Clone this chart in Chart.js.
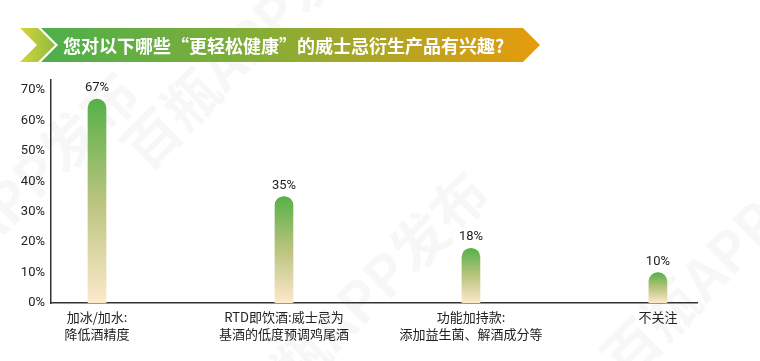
<!DOCTYPE html>
<html>
<head>
<meta charset="utf-8">
<script src="https://cdn.jsdelivr.net/npm/chart.js@4.4.1/dist/chart.umd.min.js"></script>
<style>
  html, body { margin: 0; padding: 0; background: #fff; }
  #wrap { width: 760px; height: 361px; position: relative; }
</style>
</head>
<body>
<div id="wrap"><canvas id="grafica" width="760" height="361"></canvas></div>
<script>
// datos de la gráfica
const titulo = "您对以下哪些“更轻松健康”的威士忌衍生产品有兴趣?";
const categorias = [
    ["加冰/加水:", "降低酒精度"],
    ["RTD即饮酒:威士忌为", "基酒的低度预调鸡尾酒"],
    ["功能加持款:", "添加益生菌、解酒成分等"],
    ["不关注"]
];
const valores = [67, 35, 18, 10];
const ticksY = [0, 10, 20, 30, 40, 50, 60, 70];

const fuenteNum = "Roboto, 'Noto Sans CJK SC', sans-serif";
const fuenteCJK = "'Noto Sans CJK SC', 'Noto Sans', sans-serif";

// degradado de cada barra: verde arriba, crema abajo
function colorBarra(ctx) {
    const chart = ctx.chart;
    const y = chart.scales.y;
    if (!y || !chart.chartArea || ctx.dataIndex === undefined) return "#8fbf5a";
    const top = y.getPixelForValue(valores[ctx.dataIndex]);
    const bottom = y.getPixelForValue(0);
    const g = chart.ctx.createLinearGradient(0, top, 0, bottom);
    g.addColorStop(0, "#57b047");
    g.addColorStop(0.5, "#b9c47e");
    g.addColorStop(1, "#fde9cb");
    return g;
}

// banner del título + marca de agua
const bannerPlugin = {
    id: "banner",
    beforeDraw(chart) {
        const c = chart.ctx;
        c.save();
        // marca de agua
        c.fillStyle = "rgba(0,0,0,0.03)";
        c.font = "bold 56px " + fuenteCJK;
        c.textAlign = "center";
        c.textBaseline = "middle";
        [[250, 40], [10, 200], [360, 300], [730, 250]].forEach(function (p) {
            c.save();
            c.translate(p[0], p[1]);
            c.rotate(-Math.PI / 4);
            c.fillText("百瓶APP发布", 0, 0);
            c.restore();
        });

        // chevron izquierdo
        let g1 = c.createLinearGradient(20, 0, 55, 0);
        g1.addColorStop(0, "#d6d43c");
        g1.addColorStop(1, "#8dbd3f");
        c.fillStyle = g1;
        c.beginPath();
        c.moveTo(20, 28); c.lineTo(38, 28); c.lineTo(55, 45);
        c.lineTo(38, 62); c.lineTo(20, 62); c.lineTo(37, 45);
        c.closePath(); c.fill();

        // banda principal
        let g2 = c.createLinearGradient(40, 0, 540, 0);
        g2.addColorStop(0, "#4daf4b");
        g2.addColorStop(0.45, "#86ad36");
        g2.addColorStop(1, "#e79b0c");
        c.fillStyle = g2;
        c.beginPath();
        c.moveTo(41, 28); c.lineTo(523, 28); c.lineTo(540, 45);
        c.lineTo(523, 62); c.lineTo(41, 62); c.lineTo(58, 45);
        c.closePath(); c.fill();

        c.fillStyle = "#ffffff";
        c.font = "bold 18px " + fuenteCJK;
        c.textAlign = "left";
        c.textBaseline = "middle";
        c.fillText(titulo, 63, 46);
        c.restore();
    },
    afterDatasetsDraw(chart) {
        // etiquetas de valor sobre las barras
        const c = chart.ctx;
        const meta = chart.getDatasetMeta(0);
        c.save();
        c.fillStyle = "#222";
        c.font = "13px " + fuenteNum;
        c.textAlign = "center";
        c.textBaseline = "middle";
        meta.data.forEach(function (bar, i) {
            c.fillText(valores[i] + "%", bar.x, bar.y - 11);
        });
        c.restore();
    }
};

new Chart(document.getElementById("grafica"), {
    type: "bar",
    data: {
        datasets: [{
            data: valores.map(function (v, i) { return { x: i, y: v }; }),
            backgroundColor: colorBarra,
            borderRadius: { topLeft: 9, topRight: 9 },
            borderSkipped: "bottom",
            barThickness: 18
        }]
    },
    options: {
        responsive: false,
        animation: false,
        layout: { padding: { top: 80, right: 63, left: 0, bottom: 0 } },
        plugins: {
            legend: { display: false },
            tooltip: { enabled: false }
        },
        scales: {
            x: {
                type: "linear",
                offset: false,
                min: -0.246,
                max: 3.209,
                grid: { display: false, drawTicks: false, offset: false },
                border: { color: "#333", width: 1.5 },
                afterBuildTicks(s) { s.ticks = categorias.map(function (_, i) { return { value: i }; }); },
                afterFit(s) { s.height = 58; s.paddingLeft = 0; s.paddingRight = 0; },
                ticks: {
                    autoSkip: false,
                    maxRotation: 0,
                    padding: 6,
                    color: "#222",
                    font: { family: fuenteCJK, size: 13, lineHeight: 1.3 },
                    callback: function (v) { return categorias[v]; }
                }
            },
            y: {
                min: 0,
                max: 73.3,
                grid: { display: false, drawTicks: false },
                border: { color: "#333", width: 1.5 },
                afterBuildTicks(s) { s.ticks = ticksY.map(function (v) { return { value: v }; }); },
                afterFit(s) { s.width = 51; },
                ticks: {
                    padding: 6,
                    color: "#222",
                    font: { family: fuenteNum, size: 13 },
                    callback: function (v) { return v + "%"; }
                }
            }
        }
    },
    plugins: [bannerPlugin]
});
</script>
</body>
</html>
